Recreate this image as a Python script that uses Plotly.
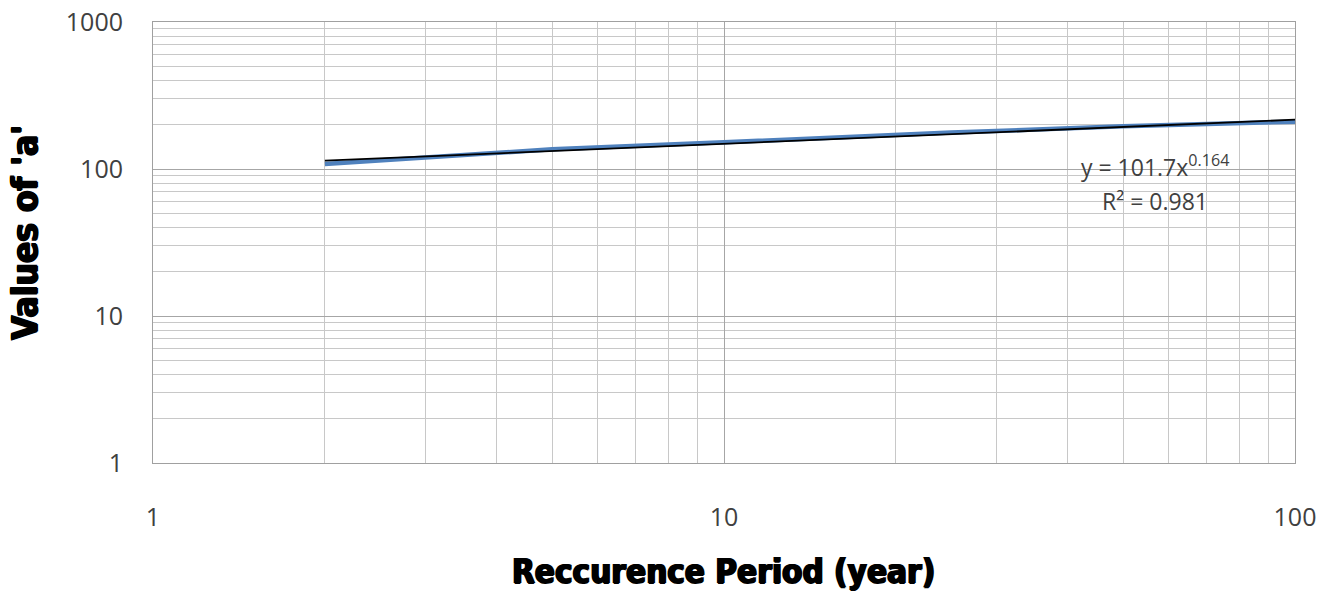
import numpy as np
import plotly.graph_objects as go

# Recurrence period (years) and fitted IDF coefficient 'a'
period = [2, 5, 10, 25, 50, 100]
a_values = [108, 136, 152, 177, 195, 210]

# Power-law trendline parameters  (y = c * x^k)
coef = 101.7
expo = 0.164
r_squared = 0.981

x_decades = [1, 10, 100]
y_decades = [1, 10, 100, 1000]
x_minor = [m * d for d in [1, 10] for m in range(2, 10)]
y_minor = [m * d for d in [1, 10, 100] for m in range(2, 10)]

trend_x = np.logspace(np.log10(period[0]), np.log10(period[-1]), 50)
trend_y = coef * trend_x ** expo

fig = go.Figure()
fig.add_trace(go.Scatter(
    x=period, y=a_values, mode="lines",
    line=dict(color="#4f81bd", width=4.5),
    showlegend=False,
))
fig.add_trace(go.Scatter(
    x=trend_x, y=trend_y, mode="lines",
    line=dict(color="#000000", width=1.8),
    showlegend=False,
))

tick_font = dict(family="Open Sans, Liberation Sans, sans-serif", size=25, color="#404040")
eq_font = dict(family="Open Sans, Liberation Sans, sans-serif", size=23, color="#404040")


def title_font(size):
    return dict(
        family="DejaVu Sans Condensed, DejaVu Sans, sans-serif", size=size, color="#000000",
        weight="bold",
        shadow="1px 0 0 #000, -1px 0 0 #000, 0 1px 0 #000",
    )


fig.update_xaxes(
    type="log", range=[0, 2], automargin=False,
    tickvals=x_decades, ticktext=[str(v) for v in x_decades],
    tickfont=tick_font,
    ticks="outside", ticklen=32, tickcolor="rgba(0,0,0,0)",
    showgrid=True, gridcolor="#a6a6a6", gridwidth=1,
    minor=dict(tickvals=x_minor, showgrid=True, gridcolor="#c8c8c8", ticks=""),
    showline=True, linecolor="#a0a0a0", mirror=True, linewidth=1,
    zeroline=False,
)
fig.update_yaxes(
    type="log", range=[0, 3], automargin=False,
    tickvals=y_decades, ticktext=[str(v) for v in y_decades],
    tickfont=tick_font,
    ticks="outside", ticklen=24, tickcolor="rgba(0,0,0,0)",
    showgrid=True, gridcolor="#a6a6a6", gridwidth=1,
    minor=dict(tickvals=y_minor, showgrid=True, gridcolor="#c8c8c8", ticks=""),
    showline=True, linecolor="#a0a0a0", mirror=True, linewidth=1,
    zeroline=False,
)

L, R, T, B = 153, 38, 22, 129
W, H = 1333, 592
pw, ph = W - L - R, H - T - B

# Axis titles, placed in pixel terms relative to the plotting area
fig.add_annotation(
    text="Reccurence Period (year)", showarrow=False, font=title_font(33),
    xref="paper", yref="paper", xanchor="center", yanchor="middle",
    x=(723 - L) / pw, y=(H - B - 571) / ph,
)
fig.add_annotation(
    text="Values of 'a'", textangle=-90, showarrow=False, font=title_font(35),
    xref="paper", yref="paper", xanchor="center", yanchor="middle",
    x=(25 - L) / pw, y=(H - B - 233) / ph,
)

# Trendline equation and goodness of fit (two separate lines)
fig.add_annotation(
    x=1.755, y=2.02, xref="x", yref="y",
    text=f"y = {coef}x<sup>{expo}</sup>",
    showarrow=False, font=eq_font,
)
fig.add_annotation(
    x=1.755, y=1.78, xref="x", yref="y",
    text=f"R\u00b2 = {r_squared}",
    showarrow=False, font=eq_font,
)

fig.update_layout(
    width=W, height=H,
    margin=dict(l=L, r=R, t=T, b=B),
    paper_bgcolor="white", plot_bgcolor="white",
)

fig.write_html("out.html")
